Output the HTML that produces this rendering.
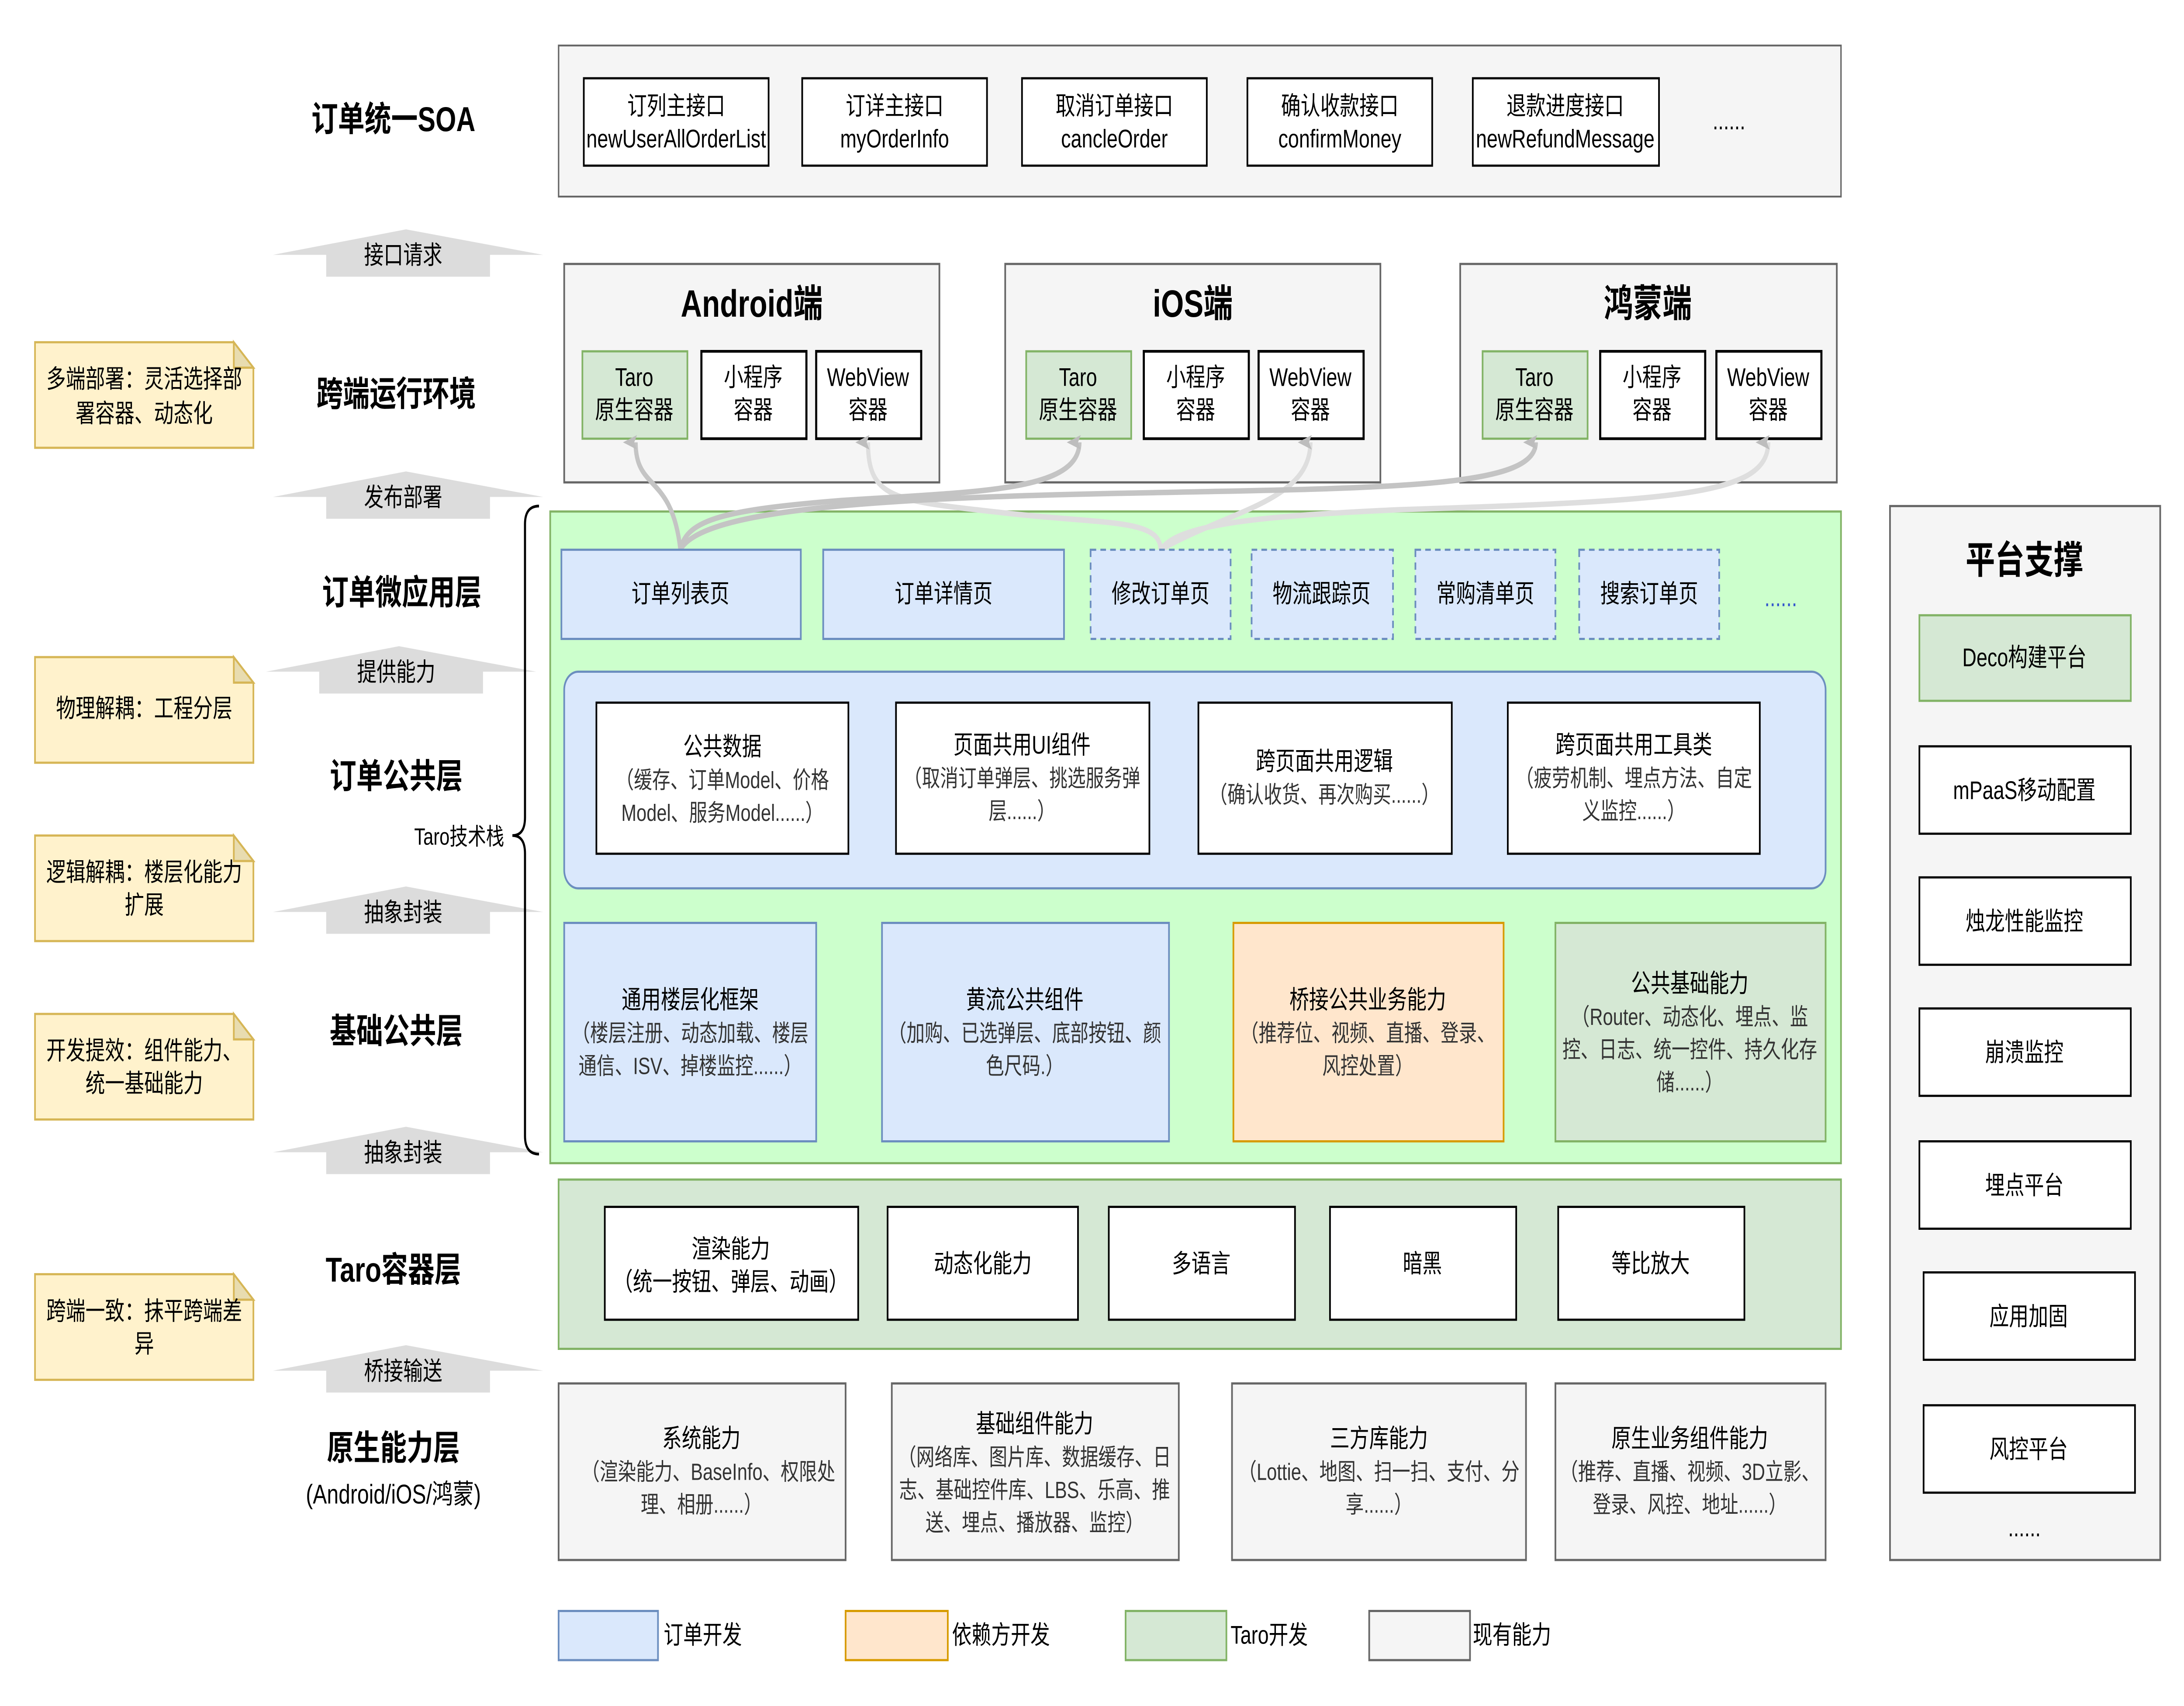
<!DOCTYPE html>
<html><head><meta charset="utf-8"><style>
html,body{margin:0;padding:0;background:#fff;width:100%;height:100%;overflow:hidden}
svg{display:block;width:100vw;height:100vh}
text{font-family:"Liberation Sans","Noto Sans CJK SC",sans-serif;fill:#000}
.b{font-weight:bold}
.t{font-size:14px}
.s{font-size:13px;fill:#333}
</style></head><body>
<svg viewBox="0 0 1560 937.2" preserveAspectRatio="none" xmlns="http://www.w3.org/2000/svg">
<defs>
<marker id="ad" markerWidth="8" markerHeight="10" refX="4" refY="9" orient="auto-start-reverse" markerUnits="userSpaceOnUse" viewBox="0 0 8 10"><path d="M0,10 L4,0 L8,10 L4,8 Z" fill="#bdbdbd"/></marker>
</defs>
<rect width="1560" height="937.2" fill="#fff"/>

<rect x="399" y="25" width="916" height="83" fill="#f5f5f5" stroke="#666"/>
<g fill="#fff" stroke="#000" stroke-width="1.2">
<rect x="417" y="43" width="132" height="48"/><rect x="573" y="43" width="132" height="48"/><rect x="730" y="43" width="132" height="48"/><rect x="891" y="43" width="132" height="48"/><rect x="1052" y="43" width="133" height="48"/>
</g>
<g class="t" text-anchor="middle">
<text x="483" y="63">订列主接口</text><text x="483" y="81">newUserAllOrderList</text>
<text x="639" y="63">订详主接口</text><text x="639" y="81">myOrderInfo</text>
<text x="796" y="63">取消订单接口</text><text x="796" y="81">cancleOrder</text>
<text x="957" y="63">确认收款接口</text><text x="957" y="81">confirmMoney</text>
<text x="1118" y="63">退款进度接口</text><text x="1118" y="81">newRefundMessage</text>
<text x="1235" y="71">......</text>
</g>

<g class="b" text-anchor="middle" font-size="19">
<text x="281" y="72">订单统一SOA</text>
<text x="283" y="223">跨端运行环境</text>
<text x="287" y="332">订单微应用层</text>
<text x="283" y="433">订单公共层</text>
<text x="283" y="573">基础公共层</text>
<text x="281" y="704">Taro容器层</text>
<text x="281" y="802">原生能力层</text>
</g>
<text x="281" y="826" text-anchor="middle" font-size="15">(Android/iOS/鸿蒙)</text>

<g fill="#dcdcdc">
<path d="M195,140 L290,126 L388,140 L350,140 L350,152 L233,152 L233,140 Z"/>
<path d="M195,273 L290,259 L388,273 L350,273 L350,285 L233,285 L233,273 Z"/>
<path d="M190,369 L285,355 L383,369 L345,369 L345,381 L228,381 L228,369 Z"/>
<path d="M195,501 L290,487 L388,501 L350,501 L350,513 L233,513 L233,501 Z"/>
<path d="M195,633 L290,619 L388,633 L350,633 L350,645 L233,645 L233,633 Z"/>
<path d="M195,753 L290,739 L388,753 L350,753 L350,765 L233,765 L233,753 Z"/>
</g>
<g font-size="14" text-anchor="middle">
<text x="288" y="145">接口请求</text>
<text x="288" y="278">发布部署</text>
<text x="283" y="374">提供能力</text>
<text x="288" y="506">抽象封装</text>
<text x="288" y="638">抽象封装</text>
<text x="288" y="758">桥接输送</text>
</g>

<g fill="#fff2cc" stroke="#d6b656" stroke-width="1.2">
<path d="M25,188 H167 L181,202 V246 H25 Z"/>
<path d="M25,361 H167 L181,375 V419 H25 Z"/>
<path d="M25,459 H167 L181,473 V517 H25 Z"/>
<path d="M25,557 H167 L181,571 V615 H25 Z"/>
<path d="M25,700 H167 L181,714 V758 H25 Z"/>
</g>
<g fill="#e8dcb0" stroke="#d6b656" stroke-width="1.2">
<path d="M167,188 V202 H181 Z"/><path d="M167,361 V375 H181 Z"/><path d="M167,459 V473 H181 Z"/><path d="M167,557 V571 H181 Z"/><path d="M167,700 V714 H181 Z"/>
</g>
<g font-size="14" text-anchor="middle">
<text x="103" y="213">多端部署：灵活选择部</text><text x="103" y="232">署容器、动态化</text>
<text x="103" y="394">物理解耦：工程分层</text>
<text x="103" y="484">逻辑解耦：楼层化能力</text><text x="103" y="502">扩展</text>
<text x="103" y="582">开发提效：组件能力、</text><text x="103" y="600">统一基础能力</text>
<text x="103" y="725">跨端一致：抹平跨端差</text><text x="103" y="743">异</text>
</g>

<path d="M385,278 Q375,278 375,288 L375,449 Q375,459 366,459 Q375,459 375,469 L375,624 Q375,634 385,634" fill="none" stroke="#000" stroke-width="1.5"/>
<text x="328" y="464" font-size="13" text-anchor="middle">Taro技术栈</text>

<g fill="#f5f5f5" stroke="#666" stroke-width="1.2">
<rect x="403" y="145" width="268" height="120"/><rect x="718" y="145" width="268" height="120"/><rect x="1043" y="145" width="269" height="120"/>
</g>
<g class="b" font-size="21" text-anchor="middle">
<text x="537" y="174">Android端</text><text x="852" y="174">iOS端</text><text x="1177" y="174">鸿蒙端</text>
</g>
<g fill="#d5e8d4" stroke="#82b366" stroke-width="1.2">
<rect x="416" y="193" width="75" height="48"/><rect x="733" y="193" width="75" height="48"/><rect x="1059" y="193" width="75" height="48"/>
</g>
<g fill="#fff" stroke="#000" stroke-width="1.5">
<rect x="501" y="193" width="75" height="48"/><rect x="583" y="193" width="75" height="48"/>
<rect x="817" y="193" width="75" height="48"/><rect x="899" y="193" width="75" height="48"/>
<rect x="1143" y="193" width="75" height="48"/><rect x="1226" y="193" width="75" height="48"/>
</g>
<g class="t" text-anchor="middle">
<text x="453" y="212">Taro</text><text x="453" y="230">原生容器</text>
<text x="538" y="212">小程序</text><text x="538" y="230">容器</text>
<text x="620" y="212">WebView</text><text x="620" y="230">容器</text>
<text x="770" y="212">Taro</text><text x="770" y="230">原生容器</text>
<text x="854" y="212">小程序</text><text x="854" y="230">容器</text>
<text x="936" y="212">WebView</text><text x="936" y="230">容器</text>
<text x="1096" y="212">Taro</text><text x="1096" y="230">原生容器</text>
<text x="1180" y="212">小程序</text><text x="1180" y="230">容器</text>
<text x="1263" y="212">WebView</text><text x="1263" y="230">容器</text>
</g>

<rect x="393" y="281" width="922" height="358" fill="#ccffcc" stroke="#82b366" stroke-width="1.2"/>

<g fill="none" stroke-width="3">
<path d="M620,243 C620,275 640,275 720,282 C790,288 829,285 829,302" stroke="#dedede" marker-start="url(#ad)"/>
<path d="M936,243 C936,275 880,280 829,302" stroke="#dedede" marker-start="url(#ad)"/>
<path d="M1263,243 C1263,272 1200,275 1000,280 C880,284 840,290 829,302" stroke="#dedede" marker-start="url(#ad)"/>
<path d="M454,243 C454,270 480,260 486,302" stroke="#c4c4c4" marker-start="url(#ad)"/>
<path d="M771,243 C771,270 700,270 600,275 C520,280 490,285 486,302" stroke="#c4c4c4" marker-start="url(#ad)"/>
<path d="M1097,243 C1097,268 1000,268 800,271 C600,274 500,282 486,302" stroke="#c4c4c4" marker-start="url(#ad)"/>
</g>

<g fill="#dae8fc" stroke="#6c8ebf" stroke-width="1.2">
<rect x="401" y="302" width="171" height="49"/><rect x="588" y="302" width="172" height="49"/>
<g stroke-dasharray="4,3"><rect x="779" y="302" width="100" height="49"/><rect x="894" y="302" width="101" height="49"/><rect x="1011" y="302" width="100" height="49"/><rect x="1128" y="302" width="100" height="49"/></g>
</g>
<g class="t" text-anchor="middle">
<text x="486" y="331">订单列表页</text><text x="674" y="331">订单详情页</text><text x="829" y="331">修改订单页</text><text x="944" y="331">物流跟踪页</text><text x="1061" y="331">常购清单页</text><text x="1178" y="331">搜索订单页</text>
</g>
<text x="1272" y="333" font-size="14" text-anchor="middle" style="fill:#3355cc">......</text>

<rect x="403" y="369" width="901" height="119" rx="10" fill="#dae8fc" stroke="#6c8ebf" stroke-width="1.2"/>
<g fill="#fff" stroke="#000" stroke-width="1.2">
<rect x="426" y="386" width="180" height="83"/><rect x="640" y="386" width="181" height="83"/><rect x="856" y="386" width="181" height="83"/><rect x="1077" y="386" width="180" height="83"/>
</g>
<g text-anchor="middle">
<text x="516" y="415" class="t">公共数据</text><text x="516" y="433" class="s">（缓存、订单Model、价格</text><text x="516" y="451" class="s">Model、服务Model......）</text>
<text x="730" y="414" class="t">页面共用UI组件</text><text x="730" y="432" class="s">（取消订单弹层、挑选服务弹</text><text x="730" y="450" class="s">层......）</text>
<text x="946" y="423" class="t">跨页面共用逻辑</text><text x="946" y="441" class="s">（确认收货、再次购买......）</text>
<text x="1167" y="414" class="t">跨页面共用工具类</text><text x="1167" y="432" class="s">（疲劳机制、埋点方法、自定</text><text x="1167" y="450" class="s">义监控......）</text>
</g>

<rect x="403" y="507" width="180" height="120" fill="#dae8fc" stroke="#6c8ebf" stroke-width="1.2"/>
<rect x="630" y="507" width="205" height="120" fill="#dae8fc" stroke="#6c8ebf" stroke-width="1.2"/>
<rect x="881" y="507" width="193" height="120" fill="#ffe6cc" stroke="#d79b00" stroke-width="1.2"/>
<rect x="1111" y="507" width="193" height="120" fill="#d5e8d4" stroke="#82b366" stroke-width="1.2"/>
<g text-anchor="middle">
<text x="493" y="554" class="t">通用楼层化框架</text><text x="493" y="572" class="s">（楼层注册、动态加载、楼层</text><text x="493" y="590" class="s">通信、ISV、掉楼监控......）</text>
<text x="732" y="554" class="t">黄流公共组件</text><text x="732" y="572" class="s">（加购、已选弹层、底部按钮、颜</text><text x="732" y="590" class="s">色尺码.）</text>
<text x="977" y="554" class="t">桥接公共业务能力</text><text x="977" y="572" class="s">（推荐位、视频、直播、登录、</text><text x="977" y="590" class="s">风控处置）</text>
<text x="1207" y="545" class="t">公共基础能力</text><text x="1207" y="563" class="s">（Router、动态化、埋点、监</text><text x="1207" y="581" class="s">控、日志、统一控件、持久化存</text><text x="1207" y="599" class="s">储......）</text>
</g>

<rect x="399" y="648" width="916" height="93" fill="#d5e8d4" stroke="#82b366" stroke-width="1.2"/>
<g fill="#fff" stroke="#000" stroke-width="1.2">
<rect x="432" y="663" width="181" height="62"/><rect x="634" y="663" width="136" height="62"/><rect x="792" y="663" width="133" height="62"/><rect x="950" y="663" width="133" height="62"/><rect x="1113" y="663" width="133" height="62"/>
</g>
<g class="t" text-anchor="middle">
<text x="522" y="691">渲染能力</text><text x="522" y="709">（统一按钮、弹层、动画）</text>
<text x="702" y="699">动态化能力</text><text x="858" y="699">多语言</text><text x="1016" y="699">暗黑</text><text x="1179" y="699">等比放大</text>
</g>

<g fill="#f5f5f5" stroke="#666" stroke-width="1.2">
<rect x="399" y="760" width="205" height="97"/><rect x="637" y="760" width="205" height="97"/><rect x="880" y="760" width="210" height="97"/><rect x="1111" y="760" width="193" height="97"/>
</g>
<g text-anchor="middle">
<text x="501" y="795" class="t">系统能力</text><text x="506" y="813" class="s">（渲染能力、BaseInfo、权限处</text><text x="501" y="831" class="s">理、相册......）</text>
<text x="739" y="787" class="t">基础组件能力</text><text x="739" y="805" class="s">（网络库、图片库、数据缓存、日</text><text x="739" y="823" class="s">志、基础控件库、LBS、乐高、推</text><text x="739" y="841" class="s">送、埋点、播放器、监控）</text>
<text x="985" y="795" class="t">三方库能力</text><text x="985" y="813" class="s">（Lottie、地图、扫一扫、支付、分</text><text x="985" y="831" class="s">享......）</text>
<text x="1207" y="795" class="t">原生业务组件能力</text><text x="1207" y="813" class="s">（推荐、直播、视频、3D立影、</text><text x="1207" y="831" class="s">登录、风控、地址......）</text>
</g>

<rect x="399" y="885" width="71" height="27" fill="#dae8fc" stroke="#6c8ebf" stroke-width="1.2"/>
<rect x="604" y="885" width="73" height="27" fill="#ffe6cc" stroke="#d79b00" stroke-width="1.2"/>
<rect x="804" y="885" width="72" height="27" fill="#d5e8d4" stroke="#82b366" stroke-width="1.2"/>
<rect x="978" y="885" width="72" height="27" fill="#f5f5f5" stroke="#666" stroke-width="1.2"/>
<g class="t"><text x="474" y="903">订单开发</text><text x="680" y="903">依赖方开发</text><text x="879" y="903">Taro开发</text><text x="1052" y="903">现有能力</text></g>

<rect x="1350" y="278" width="193" height="579" fill="#f5f5f5" stroke="#666" stroke-width="1.2"/>
<text x="1446" y="315" class="b" font-size="21" text-anchor="middle">平台支撑</text>
<rect x="1371" y="338" width="151" height="47" fill="#d5e8d4" stroke="#82b366" stroke-width="1.2"/>
<g fill="#fff" stroke="#000" stroke-width="1.2">
<rect x="1371" y="410" width="151" height="48"/><rect x="1371" y="482" width="151" height="48"/><rect x="1371" y="554" width="151" height="48"/><rect x="1371" y="627" width="151" height="48"/><rect x="1374" y="699" width="151" height="48"/><rect x="1374" y="772" width="151" height="48"/>
</g>
<g class="t" text-anchor="middle">
<text x="1446" y="366">Deco构建平台</text><text x="1446" y="439">mPaaS移动配置</text><text x="1446" y="511">烛龙性能监控</text><text x="1446" y="583">崩溃监控</text><text x="1446" y="656">埋点平台</text><text x="1449" y="728">应用加固</text><text x="1449" y="801">风控平台</text><text x="1446" y="844">......</text>
</g>
</svg>
</body></html>
